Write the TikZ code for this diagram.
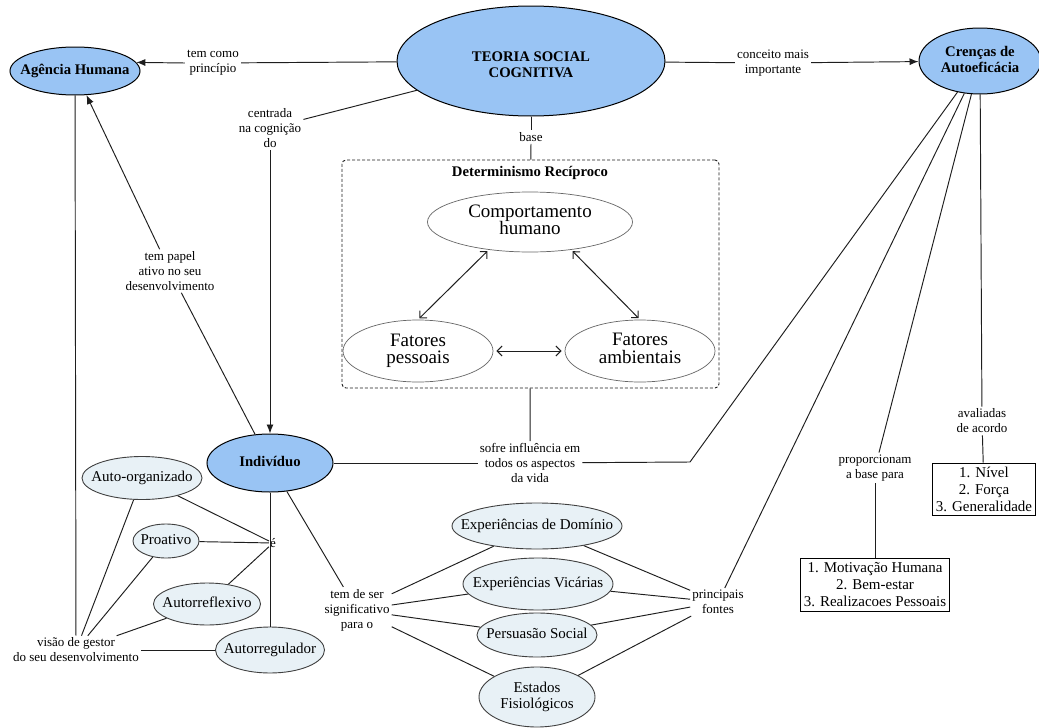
\documentclass[tikz,border=0pt]{standalone}
\usepackage{fontspec}
\setmainfont{Liberation Serif}
\usetikzlibrary{shapes.geometric,arrows.meta}
\definecolor{bluefill}{RGB}{153,196,244}
\definecolor{lightfill}{RGB}{232,241,246}
\definecolor{lineclr}{RGB}{30,30,30}
\newcommand{\ztext}[1]{\makebox[0pt]{\begin{tabular}{@{}c@{}}#1\end{tabular}}}
\begin{document}
\begin{tikzpicture}[x=1pt,y=-1pt,
  conn/.style={line width=0.95pt, draw=lineclr},
  arr/.style={conn, -{Latex[length=9pt,width=7pt]}},
  dbl/.style={line width=1pt, draw=lineclr, {Straight Barb[length=5pt,width=10pt]}-{Straight Barb[length=5pt,width=10pt]}},
  blueell/.style={ellipse, draw=black, line width=1pt, fill=bluefill, inner sep=0pt, font=\bfseries\fontsize{14.7}{16.5}\selectfont},
  lightell/.style={ellipse, draw=black!75, line width=0.9pt, fill=lightfill, inner sep=0pt, font=\fontsize{15}{16.5}\selectfont},
  whiteell/.style={ellipse, draw=black!60, line width=0.7pt, fill=white, inner sep=0pt, font=\fontsize{19}{15.5}\selectfont},
  lbl/.style={align=center, inner sep=2pt, font=\fontsize{13}{15}\selectfont},
  listbox/.style={draw=black, line width=0.9pt, align=center, inner xsep=3pt, inner ysep=1pt, font=\fontsize{15}{17}\selectfont},
  dashbox/.style={draw=lineclr, line width=0.9pt, dash pattern=on 3pt off 2pt, rounded corners=4pt},
]
\useasboundingbox (0,0) rectangle (1039,728);
\fill[white] (0,0) rectangle (1039,728);

% dashed frame
\node[dashbox, minimum width=377pt, minimum height=228pt] (dbox) at (530.5,274) {};
\node[font=\bfseries\fontsize{14.7}{16}\selectfont, inner sep=1pt] (dtitle) at (530,173) {Determinismo Recíproco};

% main concepts
\node[blueell, minimum width=268pt, minimum height=110pt] (teoria) at (531,61) {\raisebox{-5pt}[\height][\depth]{\ztext{TEORIA SOCIAL\\COGNITIVA}}};
\node[blueell, minimum width=130pt, minimum height=48pt] (agencia) at (75,71) {\ztext{Agência Humana}};
\node[blueell, minimum width=122pt, minimum height=66pt] (cren) at (980,61) {\ztext{Crenças de\\Autoeficácia}};
\node[blueell, minimum width=126pt, minimum height=58pt] (indiv) at (270,463) {\ztext{Indivíduo}};

% reciprocal determinism
\node[whiteell, minimum width=205pt, minimum height=60pt] (comp) at (530,222) {\ztext{Comportamento\\humano}};
\node[whiteell, minimum width=150pt, minimum height=62pt] (fpess) at (418,351) {\ztext{Fatores\\pessoais}};
\node[whiteell, minimum width=150pt, minimum height=62pt] (famb) at (640,351) {\ztext{Fatores\\ambientais}};

% individual attributes
\node[lightell, minimum width=120pt, minimum height=43pt] (autoorg) at (142,478) {\ztext{Auto-organizado}};
\node[lightell, minimum width=66pt, minimum height=34pt] (proat) at (166,541) {\ztext{Proativo}};
\node[lightell, minimum width=107pt, minimum height=42pt] (autorefl) at (207,604) {\ztext{Autorreflexivo}};
\node[lightell, minimum width=109pt, minimum height=46pt] (autoreg) at (270,650) {\ztext{Autorregulador}};

% sources
\node[lightell, minimum width=170pt, minimum height=46pt] (exdom) at (537,526) {\ztext{Experiências de Domínio}};
\node[lightell, minimum width=150pt, minimum height=52pt] (exvic) at (538,584) {\ztext{Experiências Vicárias}};
\node[lightell, minimum width=120pt, minimum height=44pt] (pers) at (537,635) {\ztext{Persuasão Social}};
\node[lightell, minimum width=116pt, minimum height=60pt] (estad) at (537,697) {\ztext{Estados\\Fisiológicos}};

% boxes
\node[listbox, minimum width=102pt, minimum height=52pt] (bnivel) at (984,489) {1. Nível\\2. Força\\3. Generalidade};
\node[listbox, minimum width=147pt, minimum height=53pt] (bmot) at (875,585) {1. Motivação Humana\\2. Bem-estar\\3. Realizacoes Pessoais};

% linking labels
\node[lbl] (lab1) at (213,63) {tem como\\princípio};
\node[lbl] (lconc) at (773,63) {conceito mais\\importante};
\node[lbl] (lcen) at (270,128) {centrada\\na cognição\\do};
\node[lbl] (lbase) at (531,137) {base};
\node[lbl] (lpapel) at (170,271) {tem papel\\ativo no seu\\desenvolvimento};
\node[lbl] (lsofre) at (530,463) {sofre influência em\\todos os aspectos\\da vida};
\node[lbl] (lsig) at (357,610) {tem de ser\\significativo\\para o};
\node[lbl] (lfontes) at (718,602) {principais\\fontes};
\node[lbl] (lprop) at (875,468) {proporcionam\\a base para};
\node[lbl] (lavali) at (982,421) {avaliadas\\de acordo};
\node[lbl] (lvisao) at (76,650) {visão de gestor\\do seu desenvolvimento};
\node[lbl, inner sep=1pt] (le) at (273,543) {é};
\coordinate (c1) at (690,462);

% connectors
\draw[conn] (teoria) -- (lab1);
\draw[arr] (lab1.west) -- (agencia.8);
\draw[conn] (teoria) -- (lconc);
\draw[arr] (lconc) -- (cren);
\draw[conn] (teoria) -- (lcen);
\draw[arr] (lcen) -- (indiv);
\draw[conn] (teoria) -- (lbase);
\draw[conn] (lbase) -- (dbox);
\draw[conn] (indiv) -- (lpapel);
\draw[arr] (lpapel) -- (agencia);
\draw[conn] (agencia) -- (lvisao);
\draw[conn] (autoorg) -- (lvisao);
\draw[conn] (proat) -- (lvisao);
\draw[conn] (autorefl) -- (lvisao);
\draw[conn] (autoreg) -- (lvisao);
\draw[conn] (indiv) -- (autoreg);
\draw[conn] (autoorg) -- (le);
\draw[conn] (proat) -- (le);
\draw[conn] (autorefl) -- (le);
\draw[conn] (indiv) -- (lsig);
\draw[conn] (lsig) -- (exdom);
\draw[conn] (lsig) -- (exvic);
\draw[conn] (lsig) -- (pers);
\draw[conn] (lsig) -- (estad);
\draw[conn] (exdom) -- (lfontes);
\draw[conn] (exvic) -- (lfontes);
\draw[conn] (pers) -- (lfontes);
\draw[conn] (estad) -- (lfontes);
\draw[conn] (cren) -- (lfontes);
\draw[conn] (indiv) -- (lsofre);
\draw[conn] (dbox) -- (lsofre);
\draw[conn] (lsofre) -- (c1) -- (cren);
\draw[conn] (cren) -- (lprop);
\draw[conn] (lprop) -- (bmot);
\draw[conn] (cren) -- (lavali);
\draw[conn] (lavali) -- (bnivel);

% reciprocal arrows
\draw[dbl, shorten <=2pt, shorten >=2pt] (comp.214) -- (fpess.north);
\draw[dbl, shorten <=2pt, shorten >=2pt] (comp.326) -- (famb.north);
\draw[dbl, shorten <=3pt, shorten >=3pt] (fpess.east) -- (famb.west);
\end{tikzpicture}
\end{document}
